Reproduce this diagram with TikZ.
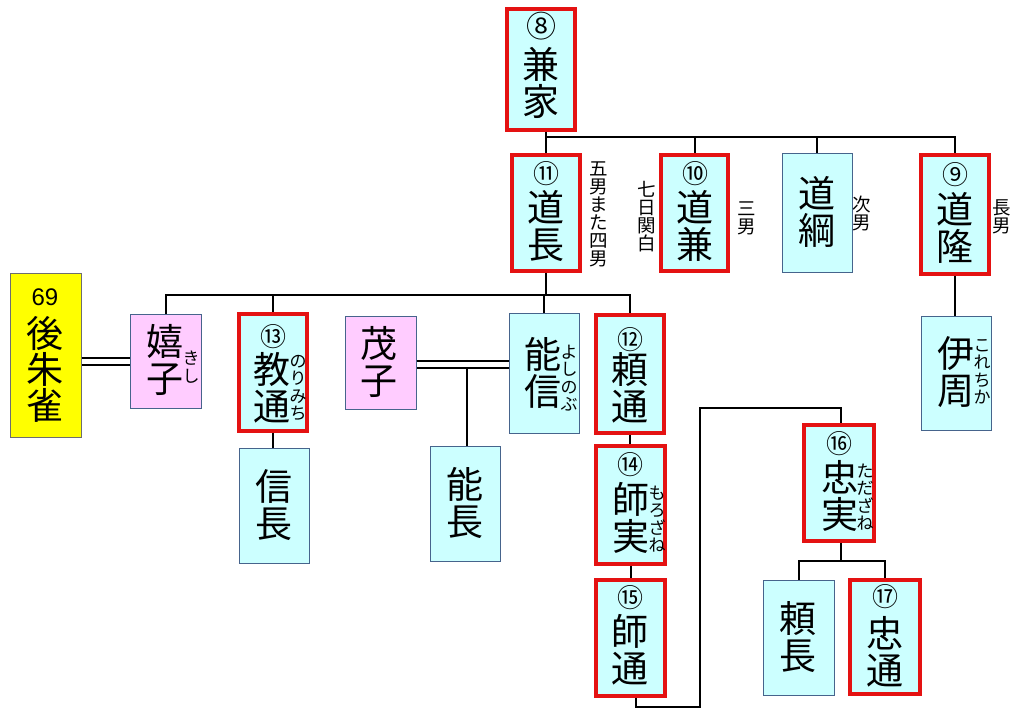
\documentclass[tikz,border=0pt]{standalone}
\usepackage{fontspec}
\newfontfamily\jp{Noto Sans CJK JP}
\newfontfamily\lat{Liberation Sans}
\usetikzlibrary{fit}
\definecolor{boxcyan}{RGB}{204,255,255}
\definecolor{boxpink}{RGB}{255,204,255}
\definecolor{boxred}{RGB}{228,18,18}
\definecolor{boxblue}{RGB}{70,100,140}
\definecolor{boxyellow}{RGB}{255,255,0}
\definecolor{boxgray}{RGB}{110,110,110}
\tikzset{
  redbox/.style={draw=boxred, line width=3.4pt, fill=boxcyan, inner sep=0pt},
  bluebox/.style={draw=boxblue, line width=1pt, fill=boxcyan, inner sep=0pt},
  pinkbox/.style={draw=boxblue, line width=1pt, fill=boxpink, inner sep=0pt},
  yellowbox/.style={draw=boxgray, line width=1pt, fill=boxyellow, inner sep=0pt},
  namet/.style={font=\jp\fontsize{37}{37}\selectfont, align=center, inner sep=0pt},
  numt/.style={font=\jp\fontsize{26}{26}\selectfont, inner sep=0pt},
  rubyt/.style={font=\jp\fontsize{17}{17.5}\selectfont, align=center, inner sep=0pt},
  sidet/.style={font=\jp\fontsize{18.5}{18}\selectfont, align=center, inner sep=0pt},
  link/.style={line width=2pt, draw=black},
  marriage/.style={draw=black, double=white, double distance=4.5pt, line width=1.8pt}
}
\begin{document}
\begin{tikzpicture}[x=1pt, y=-1pt]
\useasboundingbox[fill=white] (0,0) rectangle (1024,723);

% ---------- boxes ----------
\node[redbox, fit={(507,9) (575,130)}] (kaneie) {};
\node[redbox, fit={(512,155) (580,271)}] (michinaga) {};
\node[redbox, fit={(661,155) (728,271)}] (michikane) {};
\node[bluebox, fit={(782,153) (852,272)}] (michitsuna) {};
\node[redbox, fit={(921,155) (989,274)}] (michitaka) {};
\node[bluebox, fit={(921,316) (991,430)}] (korechika) {};
\node[yellowbox, fit={(10,273) (81,437)}] (gosuzaku) {};
\node[pinkbox, fit={(130,314) (201,408)}] (kishi) {};
\node[redbox, fit={(239,314) (307,431)}] (norimichi) {};
\node[pinkbox, fit={(345,316) (416,409)}] (shigeko) {};
\node[bluebox, fit={(509,313) (579,433)}] (yoshinobu) {};
\node[redbox, fit={(596,315) (664,433)}] (yorimichi) {};
\node[bluebox, fit={(239,448) (309,563)}] (nobunaga) {};
\node[bluebox, fit={(430,446) (500,561)}] (yoshinaga) {};
\node[redbox, fit={(596,446) (665,564)}] (morozane) {};
\node[redbox, fit={(596,580) (665,696)}] (moromichi) {};
\node[redbox, fit={(804,425) (874,541)}] (tadazane) {};
\node[bluebox, fit={(763,580) (834,695)}] (yorinaga) {};
\node[redbox, fit={(850,580) (920,694)}] (tadamichi) {};

% ---------- texts ----------
\node[numt, font=\jp\fontsize{30}{30}\selectfont] (kaneie-n) at (541,26) {⑧};
\node[namet] (kaneie-t) at (541,83) {兼\\家};
\node[numt] (michinaga-n) at (546,174) {⑪};
\node[namet] (michinaga-t) at (546,226) {道\\長};
\node[numt] (michikane-n) at (695,174) {⑩};
\node[namet] (michikane-t) at (695,226) {道\\兼};
\node[namet] (michitsuna-t) at (817,212) {道\\綱};
\node[numt] (michitaka-n) at (955,175) {⑨};
\node[namet] (michitaka-t) at (955,228) {道\\隆};
\node[namet] (korechika-t) at (956,372) {伊\\周};
\node[rubyt] (korechika-r) at (982,372) {こ\\れ\\ち\\か};
\node[font=\lat\fontsize{24}{24}\selectfont, inner sep=0pt] (gosuzaku-n) at (45,297) {69};
\node[font=\jp\fontsize{37}{36}\selectfont, align=center, inner sep=0pt] (gosuzaku-t) at (45,369) {後\\朱\\雀};
\node[namet] (kishi-t) at (165,360) {嬉\\子};
\node[rubyt] (kishi-r) at (191,367) {き\\し};
\node[numt] (norimichi-n) at (273,337) {⑬};
\node[namet] (norimichi-t) at (272,388) {教\\通};
\node[rubyt] (norimichi-r) at (298,388) {の\\り\\み\\ち};
\node[namet] (shigeko-t) at (379,362) {茂\\子};
\node[namet] (yoshinobu-t) at (543,373) {能\\信};
\node[rubyt] (yoshinobu-r) at (569,378) {よ\\し\\の\\ぶ};
\node[numt] (yorimichi-n) at (630,340) {⑫};
\node[namet] (yorimichi-t) at (630,388) {頼\\通};
\node[namet] (nobunaga-t) at (274,505) {信\\長};
\node[namet] (yoshinaga-t) at (465,503) {能\\長};
\node[numt] (morozane-n) at (630,465) {⑭};
\node[namet] (morozane-t) at (631,518) {師\\実};
\node[rubyt] (morozane-r) at (657,519) {も\\ろ\\ざ\\ね};
\node[numt] (moromichi-n) at (630,598) {⑮};
\node[namet] (moromichi-t) at (630,650) {師\\通};
\node[numt] (tadazane-n) at (839,444) {⑯};
\node[namet] (tadazane-t) at (840,496) {忠\\実};
\node[rubyt] (tadazane-r) at (865,497) {た\\だ\\ざ\\ね};
\node[namet] (yorinaga-t) at (798,637) {頼\\長};
\node[numt] (tadamichi-n) at (885,597) {⑰};
\node[namet] (tadamichi-t) at (885,652) {忠\\通};

% side labels
\node[sidet] (lab-michinaga) at (599,214) {五\\男\\ま\\た\\四\\男};
\node[sidet] (lab-michikane1) at (647,217) {七\\日\\関\\白};
\node[sidet] (lab-michikane2) at (747,218) {三\\男};
\node[sidet] (lab-michitsuna) at (862,213) {次\\男};
\node[sidet] (lab-michitaka) at (1002,217) {長\\男};

% ---------- connectors ----------
\coordinate (bar1) at (0,137);
\coordinate (bar2) at (0,295);
\coordinate (bar3) at (0,561);
\coordinate (mar1) at (0,361.5);
\coordinate (mar2) at (0,364.5);
\coordinate (mar2b) at (0,366);
\coordinate (m1) at (700,707);
\coordinate (m2) at (700,408);

\draw[link] (kaneie.south -| michinaga.north) -- (michinaga.north);
\draw[link] (bar1 -| michinaga.north) -| (michitaka.north);
\draw[link] (bar1 -| michikane.north) -- (michikane.north);
\draw[link] (bar1 -| michitsuna.north) -- (michitsuna.north);
\draw[link] (michitaka.south) -- (michitaka.south |- korechika.north);

\draw[link] (michinaga.south) -- (michinaga.south |- bar2);
\draw[link] (kishi.north) |- (bar2 -| yorimichi.north) -- (yorimichi.north);
\draw[link] (bar2 -| norimichi.north) -- (norimichi.north);
\draw[link] (bar2 -| yoshinobu.north) -- (yoshinobu.north);
\draw[link] (norimichi.south) -- (norimichi.south |- nobunaga.north);

\draw[marriage] (gosuzaku.east |- mar1) -- (kishi.west |- mar1);
\draw[link] ([xshift=2pt]yoshinaga.north |- mar2b) -- ([xshift=2pt]yoshinaga.north);
\draw[marriage] (shigeko.east |- mar2) -- (yoshinobu.west |- mar2);

\draw[link] (yorimichi.south) -- (yorimichi.south |- morozane.north);
\draw[link] (morozane.south) -- (morozane.south |- moromichi.north);
\draw[link] ([xshift=5pt]moromichi.south) |- (m1) -- (m2) -| ([xshift=2pt]tadazane.north);

\draw[link] ([xshift=2pt]tadazane.south) -- ([xshift=2pt]tadazane.south |- bar3);
\draw[link] (yorinaga.north) |- (bar3 -| tadamichi.north) -- (tadamichi.north);
\end{tikzpicture}
\end{document}
